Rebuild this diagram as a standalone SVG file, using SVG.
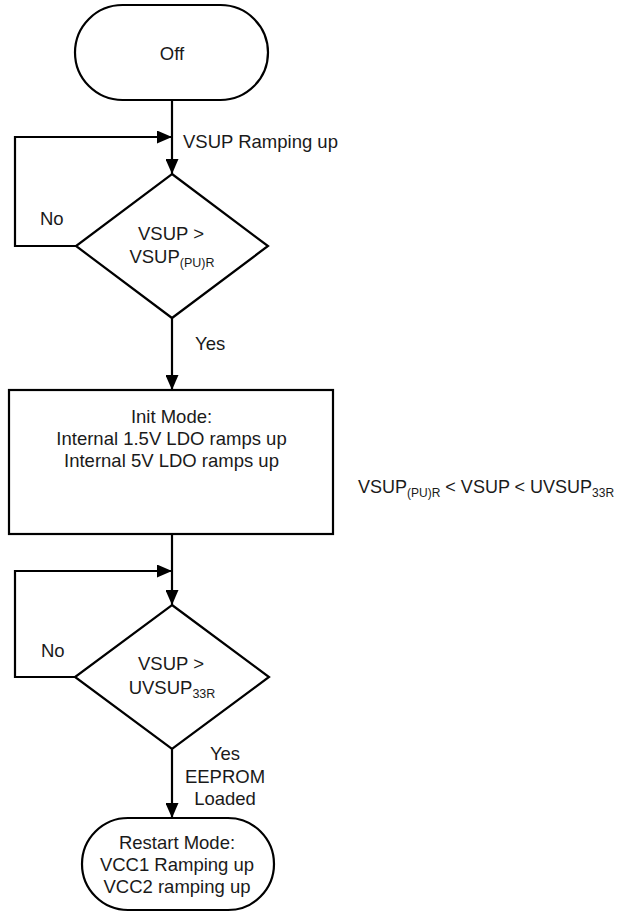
<svg xmlns="http://www.w3.org/2000/svg" width="619" height="913" viewBox="0 0 619 913">
<defs>
<marker id="arr" markerWidth="15" markerHeight="13" refX="15" refY="6.5" orient="auto" markerUnits="userSpaceOnUse">
<path d="M0,0 L15,6.5 L0,13 Z" fill="#000"/>
</marker>
<style>
.s{fill:#fff;stroke:#000;stroke-width:2.2}
.c{fill:none;stroke:#000;stroke-width:2.2}
text{font-family:"Liberation Sans",Arial,sans-serif;font-size:18.5px;fill:#1a1a1a}
.m{text-anchor:middle}
.sub{font-size:12.5px}
.r{font-size:18px}
.rs{font-size:12px}
</style>
</defs>
<rect width="619" height="913" fill="#fff"/>
<g id="connectors">
<line class="c" x1="172" y1="100" x2="172" y2="174" marker-end="url(#arr)"/>
<polyline class="c" points="76,246 15,246 15,137 172,137" marker-end="url(#arr)"/>
<line class="c" x1="172" y1="318" x2="172" y2="390" marker-end="url(#arr)"/>
<line class="c" x1="172" y1="534" x2="172" y2="605" marker-end="url(#arr)"/>
<polyline class="c" points="75,677 15,677 15,571 172,571" marker-end="url(#arr)"/>
<line class="c" x1="172" y1="749" x2="172" y2="818" marker-end="url(#arr)"/>
<text x="183" y="148">VSUP Ramping up</text>
<text x="40" y="225">No</text>
<text x="195" y="350">Yes</text>
<text x="41" y="657">No</text>
<text class="m" x="225" y="760">Yes</text>
<text class="m" x="225" y="783">EEPROM</text>
<text class="m" x="225" y="805">Loaded</text>
</g>
<g id="off">
<rect class="s" x="75" y="5" width="193" height="95" rx="47.5"/>
<text class="m" x="172" y="60">Off</text>
</g>
<g id="decision1">
<polygon class="s" points="172,174 268,246 172,318 76,246"/>
<text class="m" x="171" y="240">VSUP &gt;</text>
<text class="m" x="172" y="263">VSUP<tspan class="sub" dy="4">(PU)R</tspan></text>
</g>
<g id="init">
<rect class="s" x="9" y="390" width="324" height="144"/>
<text class="m" x="171.5" y="423">Init Mode:</text>
<text class="m" x="171.5" y="445">Internal 1.5V LDO ramps up</text>
<text class="m" x="171.5" y="467">Internal 5V LDO ramps up</text>
</g>
<g id="range">
<text class="r" x="358" y="493">VSUP<tspan class="rs" dy="4">(PU)R</tspan><tspan dy="-4"> &lt; VSUP &lt; UVSUP</tspan><tspan class="rs" dy="4">33R</tspan></text>
</g>
<g id="decision2">
<polygon class="s" points="172,605 269,677 172,749 75,677"/>
<text class="m" x="171" y="670">VSUP &gt;</text>
<text class="m" x="172" y="694">UVSUP<tspan class="sub" dy="4">33R</tspan></text>
</g>
<g id="restart">
<rect class="s" x="82" y="818" width="192" height="92" rx="46"/>
<text class="m" x="177" y="849">Restart Mode:</text>
<text class="m" x="177" y="871">VCC1 Ramping up</text>
<text class="m" x="177" y="893">VCC2 ramping up</text>
</g>
</svg>
